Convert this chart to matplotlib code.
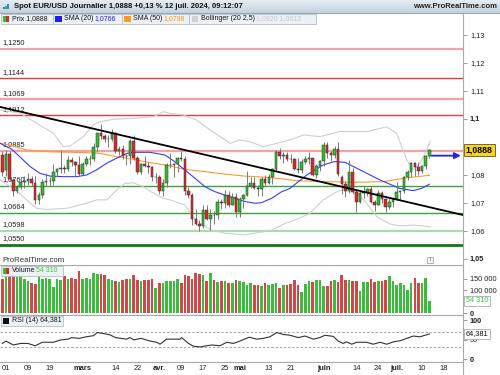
import matplotlib
matplotlib.use("Agg")
import numpy as np
import matplotlib.pyplot as plt
from matplotlib.patches import Rectangle

plt.rcParams["font.family"] = ["Liberation Sans", "DejaVu Sans"]

# ---- daily candles, 31 Jan .. 12 Jul 2024 (trading-day index, weekends skipped)
DAY = list(range(-1, 117))
OPEN = [1.0870, 1.0818, 1.0873, 1.0781, 1.0742, 1.0755, 1.0775, 1.0779, 1.0785, 1.0772,
        1.0708, 1.0727, 1.0773, 1.0777, 1.0777, 1.0808, 1.0819, 1.0823, 1.0820, 1.0851,
        1.0845, 1.0835, 1.0804, 1.0838, 1.0855, 1.0855, 1.0900, 1.0948, 1.0938, 1.0927,
        1.0927, 1.0948, 1.0883, 1.0890, 1.0867, 1.0865, 1.0922, 1.0860, 1.0808, 1.0839,
        1.0830, 1.0826, 1.0790, 1.0790, 1.0742, 1.0769, 1.0835, 1.0835, 1.0838, 1.0860,
        1.0856, 1.0742, 1.0726, 1.0643, 1.0624, 1.0617, 1.0673, 1.0643, 1.0656, 1.0655,
        1.0704, 1.0698, 1.0729, 1.0693, 1.0719, 1.0665, 1.0712, 1.0727, 1.0761, 1.0770,
        1.0754, 1.0748, 1.0783, 1.0770, 1.0790, 1.0819, 1.0882, 1.0866, 1.0870, 1.0857,
        1.0856, 1.0822, 1.0817, 1.0847, 1.0857, 1.0858, 1.0800, 1.0832, 1.0848, 1.0905,
        1.0876, 1.0870, 1.0893, 1.0790, 1.0765, 1.0742, 1.0810, 1.0739, 1.0702, 1.0734,
        1.0738, 1.0749, 1.0703, 1.0692, 1.0733, 1.0713, 1.0683, 1.0702, 1.0713, 1.0739,
        1.0743, 1.0790, 1.0810, 1.0840, 1.0826, 1.0813, 1.0830, 1.0866]
HIGH = [1.0885, 1.0889, 1.0886, 1.0788, 1.0764, 1.0782, 1.0794, 1.0805, 1.0797, 1.0795,
        1.0737, 1.0785, 1.0806, 1.0790, 1.0838, 1.0825, 1.0888, 1.0835, 1.0865, 1.0863,
        1.0850, 1.0866, 1.0847, 1.0868, 1.0870, 1.0912, 1.0950, 1.0981, 1.0944, 1.0940,
        1.0963, 1.0954, 1.0903, 1.0905, 1.0873, 1.0929, 1.0942, 1.0865, 1.0842, 1.0865,
        1.0845, 1.0830, 1.0805, 1.0800, 1.0784, 1.0840, 1.0876, 1.0842, 1.0863, 1.0885,
        1.0865, 1.0755, 1.0735, 1.0677, 1.0638, 1.0690, 1.0690, 1.0678, 1.0670, 1.0714,
        1.0714, 1.0745, 1.0740, 1.0733, 1.0735, 1.0720, 1.0730, 1.0812, 1.0790, 1.0791,
        1.0763, 1.0790, 1.0800, 1.0802, 1.0823, 1.0889, 1.0895, 1.0880, 1.0880, 1.0875,
        1.0860, 1.0860, 1.0856, 1.0865, 1.0880, 1.0860, 1.0838, 1.0852, 1.0916, 1.0915,
        1.0885, 1.0902, 1.0915, 1.0800, 1.0777, 1.0852, 1.0825, 1.0745, 1.0745, 1.0761,
        1.0752, 1.0761, 1.0710, 1.0747, 1.0740, 1.0717, 1.0715, 1.0720, 1.0775, 1.0746,
        1.0797, 1.0816, 1.0845, 1.0845, 1.0844, 1.0835, 1.0871, 1.0892]
LOW = [1.0795, 1.0796, 1.0776, 1.0723, 1.0733, 1.0750, 1.0752, 1.0762, 1.0760, 1.0697,
       1.0695, 1.0716, 1.0761, 1.0760, 1.0762, 1.0790, 1.0806, 1.0805, 1.0812, 1.0831,
       1.0796, 1.0796, 1.0798, 1.0832, 1.0836, 1.0849, 1.0880, 1.0926, 1.0915, 1.0900,
       1.0920, 1.0877, 1.0872, 1.0857, 1.0836, 1.0838, 1.0853, 1.0802, 1.0803, 1.0827,
       1.0805, 1.0776, 1.0772, 1.0731, 1.0725, 1.0756, 1.0825, 1.0791, 1.0811, 1.0848,
       1.0728, 1.0716, 1.0622, 1.0620, 1.0600, 1.0610, 1.0637, 1.0601, 1.0623, 1.0643,
       1.0677, 1.0680, 1.0685, 1.0690, 1.0650, 1.0650, 1.0680, 1.0724, 1.0752, 1.0750,
       1.0724, 1.0724, 1.0760, 1.0765, 1.0765, 1.0810, 1.0855, 1.0840, 1.0850, 1.0840,
       1.0815, 1.0805, 1.0805, 1.0837, 1.0837, 1.0797, 1.0788, 1.0812, 1.0832, 1.0861,
       1.0850, 1.0860, 1.0795, 1.0732, 1.0720, 1.0735, 1.0732, 1.0668, 1.0700, 1.0718,
       1.0723, 1.0700, 1.0670, 1.0690, 1.0700, 1.0665, 1.0676, 1.0686, 1.0710, 1.0710,
       1.0735, 1.0782, 1.0791, 1.0797, 1.0800, 1.0806, 1.0820, 1.0860]
CLOSE = [1.0810, 1.0873, 1.0786, 1.0742, 1.0755, 1.0775, 1.0779, 1.0785, 1.0772, 1.0708,
         1.0727, 1.0773, 1.0777, 1.0777, 1.0808, 1.0819, 1.0823, 1.0820, 1.0851, 1.0845,
         1.0835, 1.0804, 1.0838, 1.0855, 1.0855, 1.0900, 1.0948, 1.0938, 1.0927, 1.0927,
         1.0948, 1.0883, 1.0890, 1.0867, 1.0865, 1.0922, 1.0860, 1.0808, 1.0839, 1.0830,
         1.0826, 1.0790, 1.0790, 1.0742, 1.0769, 1.0835, 1.0835, 1.0838, 1.0860, 1.0856,
         1.0742, 1.0726, 1.0643, 1.0624, 1.0617, 1.0673, 1.0643, 1.0656, 1.0655, 1.0704,
         1.0698, 1.0729, 1.0693, 1.0719, 1.0665, 1.0712, 1.0727, 1.0761, 1.0770, 1.0754,
         1.0748, 1.0783, 1.0770, 1.0790, 1.0819, 1.0882, 1.0866, 1.0870, 1.0857, 1.0856,
         1.0822, 1.0817, 1.0847, 1.0857, 1.0858, 1.0800, 1.0832, 1.0848, 1.0905, 1.0876,
         1.0870, 1.0893, 1.0801, 1.0765, 1.0742, 1.0810, 1.0739, 1.0702, 1.0734, 1.0738,
         1.0749, 1.0703, 1.0692, 1.0733, 1.0713, 1.0683, 1.0702, 1.0713, 1.0739, 1.0743,
         1.0790, 1.0810, 1.0840, 1.0826, 1.0813, 1.0830, 1.0866, 1.0888]

# volume in thousands
VOLUME = [150, 165, 172, 178, 168, 160, 150, 140, 133, 128,
          170, 150, 155, 148, 113, 150, 145, 160, 150, 155,
          150, 182, 150, 155, 150, 175, 172, 172, 165, 150,
          145, 142, 135, 145, 150, 150, 165, 145, 140, 145,
          145, 150, 109, 133, 133, 138, 138, 138, 147, 133,
          167, 160, 147, 175, 172, 165, 142, 175, 145, 135,
          140, 140, 133, 130, 145, 140, 135, 122, 130, 122,
          122, 119, 130, 122, 126, 130, 112, 122, 122, 126,
          144, 122, 93, 126, 140, 137, 144, 144, 119, 118,
          140, 144, 136, 164, 144, 144, 140, 140, 98, 137,
          137, 150, 136, 140, 140, 144, 161, 140, 122, 130,
          122, 102, 130, 151, 130, 130, 151, 54.31]

# indicators (trading-day index, value)
SMA20_X = [-1.6, 1.6, 3.8, 6.6, 9.3, 12.1, 15.7, 19.4, 22.1, 24.8, 27.6, 30.3, 33.1,
           34.9, 39.5, 43.6, 46.3, 49, 51.8, 54.5, 57.3, 60, 62.7, 65.5, 68.2, 70,
           72.8, 75.5, 77.8, 82.4, 86.9, 90.1, 92.9, 97, 102.5, 107.9, 111.6, 114, 116]
SMA20_Y = [1.0912, 1.0891, 1.0864, 1.0829, 1.0805, 1.0795, 1.0793, 1.0793, 1.0799,
           1.0817, 1.0841, 1.0859, 1.0876, 1.0880, 1.0880, 1.0870, 1.0846, 1.0817,
           1.0787, 1.0757, 1.0739, 1.0727, 1.0716, 1.0704, 1.0698, 1.0700, 1.0716,
           1.0739, 1.0751, 1.0799, 1.0835, 1.0847, 1.0844, 1.0817, 1.0781, 1.0751,
           1.0743, 1.0752, 1.0766]
SMA50_X = [-1.6, 1.1, 5.7, 12.1, 21.2, 25.8, 30.3, 34.9, 39.5, 43.6, 49, 54.5, 60,
           65.5, 71, 76.4, 79.2, 86.9, 96.1, 103.4, 108.8, 116]
SMA50_Y = [1.0912, 1.0906, 1.0888, 1.0882, 1.0879, 1.0876, 1.0864, 1.0855, 1.0843,
           1.0835, 1.0819, 1.0811, 1.0802, 1.0795, 1.0791, 1.0784, 1.0779, 1.0775,
           1.0773, 1.0775, 1.0787, 1.0798]
BB_UP_X = [-1.6, 3.8, 8.4, 13.0, 15.7, 17.5, 21.2, 23.9, 25.8, 29.4, 34.9, 40.4, 43.1,
           44.9, 48.6, 52.2, 55.9, 61.4, 64.1, 66.8, 70.5, 74.2, 77.8, 81.5, 86.0,
           87.9, 91.5, 98.8, 104.3, 107.0, 109.8, 111.6, 113.4, 115.3, 116.2]
BB_UP_Y = [1.1031, 1.1020, 1.0984, 1.0948, 1.0900, 1.0902, 1.0936, 1.0978, 1.0989,
           1.0998, 1.1001, 1.1007, 1.1025, 1.1019, 1.1013, 1.0995, 1.0960, 1.0912,
           1.0924, 1.0918, 1.0900, 1.0912, 1.0924, 1.0942, 1.0936, 1.0942, 1.0954,
           1.0954, 1.0971, 1.0948, 1.0853, 1.0817, 1.0841, 1.0888, 1.0920]
BB_LO_X = [-1.6, 2.7, 6.6, 8.4, 11.1, 16.6, 22.1, 24.8, 27.6, 30.3, 32.6, 34.9, 37.6,
           40.4, 43.1, 44.9, 49.0, 51.8, 56.4, 60.0, 65.5, 72.8, 76.4, 79.2, 83.3,
           86.9, 90.6, 93.3, 96.1, 98.8, 101.6, 105.2, 107.9, 111.6, 114.3, 116.2]
BB_LO_Y = [1.0781, 1.0745, 1.0699, 1.0680, 1.0676, 1.0680, 1.0698, 1.0710, 1.0710,
           1.0745, 1.0769, 1.0771, 1.0757, 1.0734, 1.0716, 1.0710, 1.0692, 1.0638,
           1.0602, 1.0591, 1.0585, 1.0602, 1.0626, 1.0638, 1.0662, 1.0710, 1.0739,
           1.0751, 1.0735, 1.0698, 1.0650, 1.0624, 1.0617, 1.0620, 1.0617, 1.0613]
RSI_X = [-1, 0, 2, 4, 6, 8, 10, 13, 15, 17, 18, 20, 22, 24, 25, 27, 28.5, 30, 33, 34,
         35, 37, 39.5, 41.3, 42.2, 44, 47.7, 48.1, 50, 51.3, 53.2, 55, 56.4, 58.6, 60.5,
         62.3, 64.1, 66.6, 68.7, 70.5, 72.3, 74.2, 76, 77.8, 80.1, 81.9, 84.2, 86, 87.4,
         89.7, 91, 92.4, 93.3, 94.7, 96.1, 98.8, 100.6, 102.5, 104.3, 106.1, 108,
         109.8, 111.6, 113.4, 114.8, 116]
RSI_Y = [40, 46, 36, 40, 40, 34, 43, 43, 49, 51, 55, 53, 57, 60, 68, 65, 62, 55, 51, 55,
         49, 53, 46, 43, 38, 51, 51, 55, 40, 33, 31, 34, 36, 34, 43, 40, 46, 56, 51, 53,
         57, 68, 63, 61, 55, 59, 51, 55, 61, 58, 46, 40, 44, 38, 43, 43, 38, 43, 38, 44,
         47, 53, 59, 57, 61, 64.381]

LEVELS = [1.1250, 1.1144, 1.1069, 1.1012, 1.0885, 1.0760, 1.0664, 1.0598, 1.0550]
LEVEL_LABELS = ["1,1250", "1,1144", "1,1069", "1,1012", "1,0885", "1,0760", "1,0664",
                "1,0598", "1,0550"]
LEVEL_COLORS = ["#f4a3a3", "#e83b3b", "#f4a3a3", "#e83b3b", "#f4a3a3", "#3aa63a",
                "#3aa63a", "#a9dca9", "#0f7a0f"]
LEVEL_WIDTHS = [1.6, 1.0, 1.6, 1.0, 1.6, 1.0, 1.0, 1.6, 2.0]
TREND_X = [-1.6, 125.2]
TREND_Y = [1.1042, 1.0656]

PRICE_TICKS = [1.05, 1.06, 1.07, 1.08, 1.1, 1.11, 1.12, 1.13]
PRICE_TICK_LABELS = ["1,05", "1,06", "1,07", "1,08", "1,1", "1,11", "1,12", "1,13"]
DATE_TICKS = [0, 6, 12, 21, 30, 36, 42, 48, 54, 60, 64, 72, 78, 87, 96, 102, 107, 114, 120]
DATE_LABELS = ["01", "09", "19", "mars", "14", "22", "avr.", "09", "17", "25", "mai",
               "13", "21", "juin", "14", "24", "juil.", "10", "18"]
MONTHS = {"mars", "avr.", "mai", "juin", "juil."}

W, H = 500, 375
XMIN, XMAX = -1.64, 125.2
GREEN, RED = "#2fbf2f", "#e02828"
VGREEN, VRED = "#3cbc3c", "#d04848"


def px_axes(fig, x0, y0, x1, y1, **kw):
    return fig.add_axes([x0 / W, 1 - y1 / H, (x1 - x0) / W, (y1 - y0) / H], **kw)


def bare(ax):
    for s in ax.spines.values():
        s.set_visible(False)
    ax.set_xlim(XMIN, XMAX)
    ax.tick_params(axis="x", bottom=False, labelbottom=False)
    ax.yaxis.tick_right()
    ax.tick_params(axis="y", length=3, width=0.6, color="#8a8a8a", labelsize=5.3,
                   pad=2, labelcolor="#222222")


fig = plt.figure(figsize=(5, 3.75), dpi=100)

# ---------------- price panel
ax = px_axes(fig, 0, 13, 463, 263)
bare(ax)
ax.set_ylim(1.04846, 1.13775)

for lv, lab, col, lw in zip(LEVELS, LEVEL_LABELS, LEVEL_COLORS, LEVEL_WIDTHS):
    ax.axhline(lv, color=col, lw=lw, zorder=1)
    ax.annotate(lab, (0, lv), xycoords=("axes fraction", "data"), xytext=(2, 2),
                textcoords="offset points", fontsize=5.3, color="#222222",
                va="bottom", ha="left", zorder=1.5)

ax.plot(BB_UP_X, BB_UP_Y, color="#cfcfcf", lw=0.8, zorder=2)
ax.plot(BB_LO_X, BB_LO_Y, color="#cfcfcf", lw=0.8, zorder=2)
ax.plot(SMA50_X, SMA50_Y, color="#ff9a2a", lw=0.8, zorder=2.2)
ax.plot(SMA20_X, SMA20_Y, color="#3a3aff", lw=0.8, zorder=2.3)

o, h, l, c = map(np.array, (OPEN, HIGH, LOW, CLOSE))
up = c >= o
ax.vlines(DAY, l, h, color="#7a7a7a", lw=0.7, zorder=3)
ax.bar(DAY, np.abs(c - o), bottom=np.minimum(o, c), width=0.7,
       color=np.where(up, GREEN, RED), edgecolor="#2a2a2a", linewidth=0.35, zorder=4)

ax.plot(TREND_X, TREND_Y, color="black", lw=1.3, zorder=5)
ax.annotate("", xy=(124.6, 1.0868), xytext=(116.6, 1.0868),
            arrowprops=dict(arrowstyle="-|>", color="#2424e6", lw=1.3,
                            mutation_scale=9, shrinkA=0, shrinkB=0), zorder=6)

ax.set_yticks(PRICE_TICKS)
ax.set_yticklabels(PRICE_TICK_LABELS)
for t in ax.get_yticklabels():
    if t.get_text() in ("1,1", "1,05"):
        t.set_fontweight("bold")
ax.text(1.006, CLOSE[-1], "1,0888", transform=ax.get_yaxis_transform(),
        fontsize=6.3, fontweight="bold", va="center", ha="left", zorder=8,
        bbox=dict(boxstyle="square,pad=0.22", fc="#f7d711", ec="#333333", lw=0.5))

# ---------------- volume panel
axv = px_axes(fig, 0, 265, 463, 315)
bare(axv)
axv.set_ylim(-6.5, 209)
axv.bar(DAY, VOLUME, width=0.72, color=np.where(up, VGREEN, VRED), lw=0)
axv.set_yticks([0, 100, 150])
axv.set_yticklabels(["0", "100 000", "150 000"])
axv.get_yticklabels()[0].set_fontweight("bold")
axv.text(1.006, VOLUME[-1], "54 310", transform=axv.get_yaxis_transform(),
         fontsize=5.3, color="#2fcf2f", va="center", ha="left",
         bbox=dict(boxstyle="square,pad=0.2", fc="white", ec="#9a9a9a", lw=0.5))

# ---------------- RSI panel
axr = px_axes(fig, 0, 315, 463, 361.5)
bare(axr)
axr.set_ylim(-6.4, 113)
axr.axhline(70, color="#9a9a9a", lw=0.6, ls=(0, (3, 2)))
axr.axhline(30, color="#9a9a9a", lw=0.6, ls=(0, (3, 2)))
axr.plot(RSI_X, RSI_Y, color="#333333", lw=0.8)
axr.set_yticks([0, 50, 100])
axr.set_yticklabels(["0", "50", "100"])
for t in axr.get_yticklabels():
    if t.get_text() != "50":
        t.set_fontweight("bold")
axr.text(1.006, RSI_Y[-1], "64,381", transform=axr.get_yaxis_transform(),
         fontsize=5.3, color="#111111", va="center", ha="left", zorder=8,
         bbox=dict(boxstyle="square,pad=0.2", fc="white", ec="#9a9a9a", lw=0.5))
axr.set_xticks(DATE_TICKS)
axr.set_xticklabels(DATE_LABELS)
axr.tick_params(axis="x", bottom=True, labelbottom=True, length=0, pad=2.5,
                labelsize=5.4, labelcolor="#222222")
for t in axr.get_xticklabels():
    if t.get_text() in MONTHS:
        t.set_fontweight("bold")

# ---------------- frame, header and legends (pixel overlay)
ov = fig.add_axes([0, 0, 1, 1], zorder=10)
ov.set_xlim(0, W)
ov.set_ylim(H, 0)
ov.axis("off")
ov.patch.set_alpha(0)
renderer = fig.canvas.get_renderer()


def text_run(x, y, pieces, size=5.0):
    # consecutive coloured pieces of one legend line
    for s, col in pieces:
        t = ov.text(x, y, s, color=col, fontsize=size, va="center", ha="left")
        x += t.get_window_extent(renderer).width + 1.5
    return x


grad = np.linspace(0, 1, 20).reshape(-1, 1)
hdr = fig.add_axes([0, 1 - 12.7 / H, 1, 12.7 / H], zorder=9)
hdr.imshow(grad, aspect="auto", cmap=matplotlib.colors.LinearSegmentedColormap.from_list(
    "hdr", ["#e6edf3", "#c5d2dd"]))
hdr.axis("off")

ov.plot([0, W], [12.7, 12.7], color="#9aa9b6", lw=0.8)
ov.plot([463, 463], [12.7, H], color="#a9a9a9", lw=0.8)
for yy in (264.5, 315, 361.5):
    ov.plot([0, 463], [yy, yy], color="#a9a9a9", lw=0.8)

for k, col in enumerate(["#3a7fd5", "#2fbf2f", "#3a7fd5"]):
    ov.add_patch(Rectangle((3 + 2.2 * k, 9 - 2 - 1.5 * k), 1.5, 2 + 1.5 * k, fc=col, lw=0))
ov.text(14, 6.5, "Spot EUR/USD Journalier 1,0888 +0,13 % 12 juil. 2024, 09:12:07",
        fontsize=5.5, fontweight="bold", va="center", ha="left", color="#111111")
ov.text(497, 6.5, "www.ProRealTime.com", fontsize=5.5, fontweight="bold",
        va="center", ha="right", color="#222222")
ov.text(2, 261, "ProRealTime.com", fontsize=5.6, color="#333333", va="center", ha="left")

# indicator legend strip
ov.add_patch(Rectangle((0.5, 14), 315, 10, fc="#eef1f4", ec="#b3bec8", lw=0.6))
for xs in (53.3, 121.7, 189):
    ov.plot([xs, xs], [14, 24], color="#b3bec8", lw=0.6)
ov.add_patch(Rectangle((3.3, 16), 3, 6, fc=GREEN, lw=0))
ov.add_patch(Rectangle((6.3, 16), 3, 6, fc=RED, lw=0))
ov.add_patch(Rectangle((55, 16), 6.5, 6, fc="#1a1aff", lw=0))
ov.add_patch(Rectangle((124, 16), 6.5, 6, fc="#ff9a1a", lw=0))
ov.add_patch(Rectangle((191.7, 16), 6.5, 6, fc="#d0d0d0", lw=0))
text_run(11.7, 19, [("Prix 1,0888", "#111111")])
text_run(63.5, 19, [("SMA (20)", "#111111"), ("1,0766", "#1a1aff")])
text_run(132.7, 19, [("SMA (50)", "#111111"), ("1,0798", "#ff9a1a")])
text_run(201, 19, [("Bollinger (20 2,5)", "#111111"), ("1,0920 1,0613", "#c4c4c4")])

# volume / RSI legends
ov.add_patch(Rectangle((0.5, 266), 62.5, 9.5, fc="#eef1f4", ec="#b3bec8", lw=0.6))
ov.add_patch(Rectangle((3, 268), 3, 6, fc=GREEN, lw=0))
ov.add_patch(Rectangle((6, 268), 3, 6, fc=RED, lw=0))
text_run(11.5, 271, [("Volume", "#111111"), ("54 310", "#2fcf2f")])
ov.add_patch(Rectangle((0.5, 316), 62.5, 9.5, fc="#eef1f4", ec="#b3bec8", lw=0.6))
ov.add_patch(Rectangle((3, 318), 6, 6, fc="#111111", lw=0))
text_run(11.5, 321, [("RSI (14) 64,381", "#111111")])

# info icon
ov.add_patch(Rectangle((427, 256.5), 6, 6, fc="#f4f4f4", ec="#9a9a9a", lw=0.5))
ov.text(430, 259.6, "i", fontsize=4.5, ha="center", va="center", color="#666666")

fig.savefig("out.png", dpi=100)
